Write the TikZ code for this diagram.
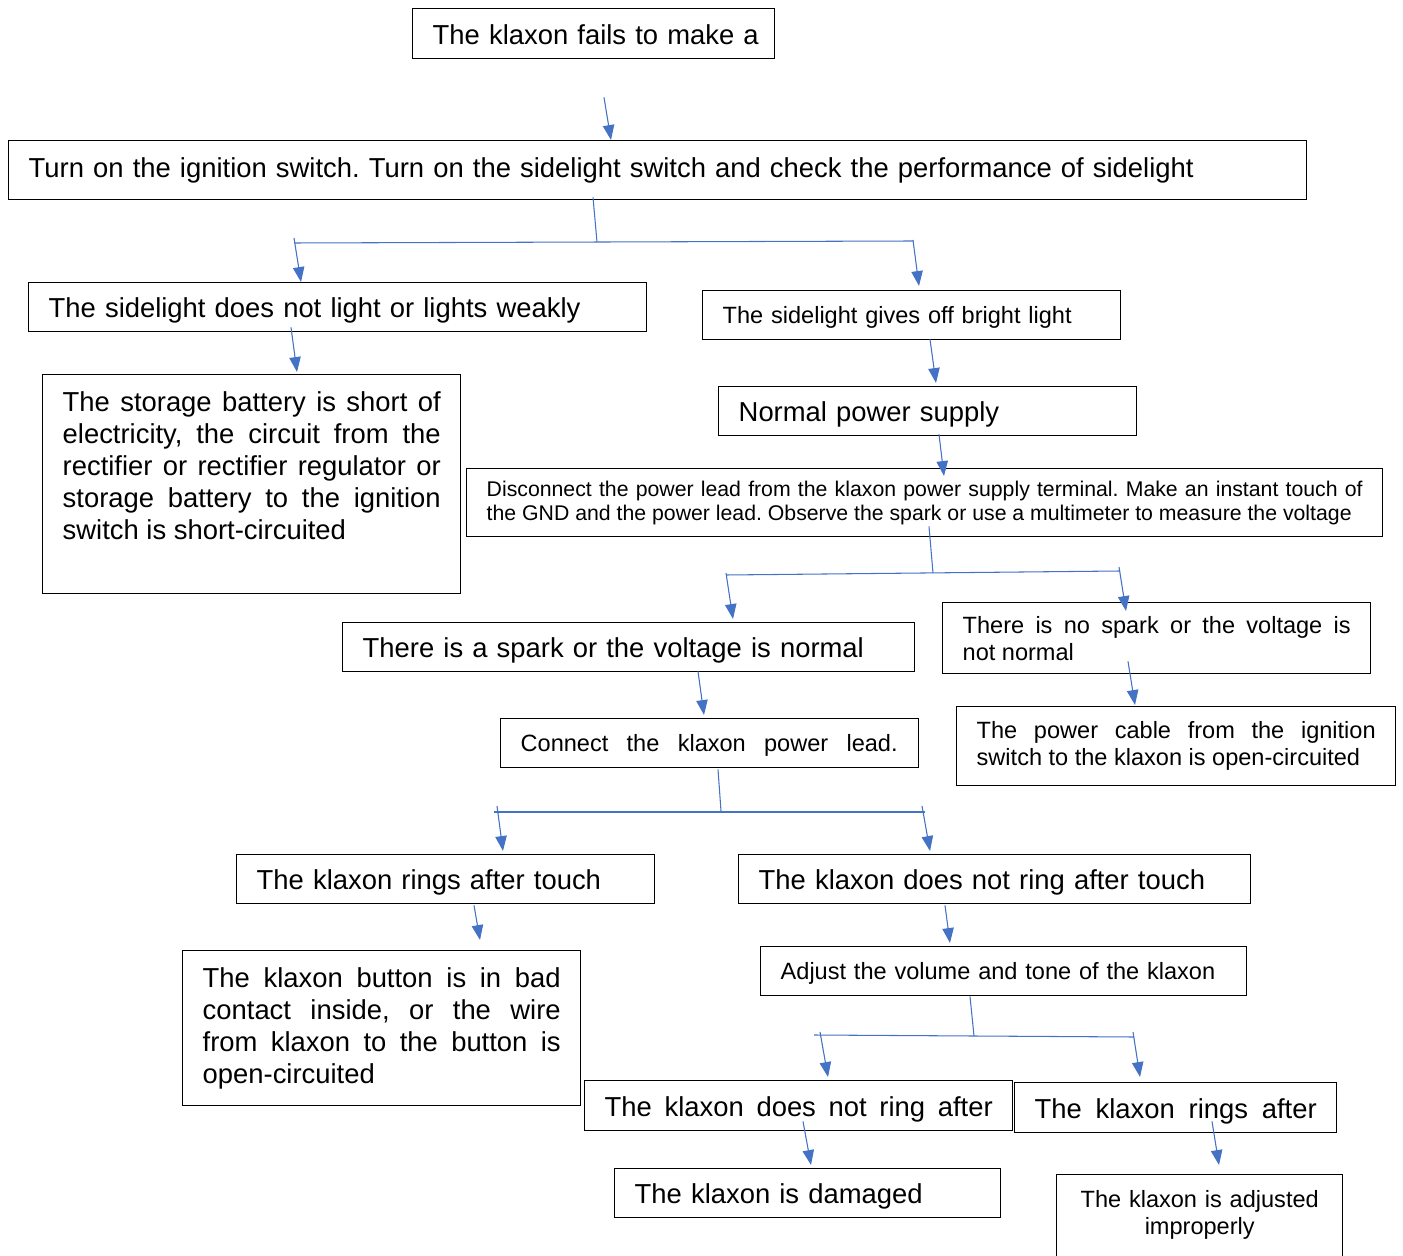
\documentclass[tikz,border=0pt]{standalone}
\usepackage{fontspec}
\setmainfont{Liberation Sans}
\frenchspacing
\usetikzlibrary{arrows.meta,calc}
\definecolor{arrowblue}{RGB}{68,114,196}
\newlength{\px}
\setlength{\px}{0.02cm}
\newcommand{\bigtxt}{\fontsize{15.6pt}{18.2pt}\selectfont}
\newcommand{\midtxt}{\fontsize{13.4pt}{15.3pt}\selectfont}
\newcommand{\smalltxt}{\fontsize{12.1pt}{13.7pt}\selectfont}
\tikzset{
  stepbox/.style={draw=black, line width=0.8pt, anchor=north west,
    inner xsep=20\px, inner ysep=0pt, align=left},
  bigbox/.style={stepbox, font=\bigtxt},
  midbox/.style={stepbox, font=\midtxt},
  smallbox/.style={stepbox, font=\smalltxt},
  bigline/.style={bigbox, text height=21\px, text depth=0pt},
  midline/.style={midbox, text height=16\px, text depth=0pt},
  flow/.style={-{Triangle[length=8.5pt,width=6.5pt]}, draw=arrowblue, fill=arrowblue, line width=0.6pt},
  bar/.style={draw=arrowblue, line width=0.6pt}
}

\begin{document}
\begin{tikzpicture}[x=0.02cm, y=-0.02cm]
\useasboundingbox (0,0) rectangle (1403,1256);
\clip (0,0) rectangle (1403,1256);

\node[bigline, text width=322\px, minimum height=50\px] (top) at (412,8) {\mbox{The klaxon fails to make a}};
\node[bigbox, text width=1258\px, minimum height=59\px] (turn) at (8,140) {Turn on the ignition switch. Turn on the sidelight switch and check the performance of sidelight};
\node[bigline, text width=578\px, minimum height=49\px] (weak) at (28,282) {The sidelight does not light or lights weakly};
\node[midline, text width=378\px, minimum height=49\px] (bright) at (702,290) {The sidelight gives off bright light};
\node[bigline, text width=378\px, minimum height=49\px] (normal) at (718,386) {Normal power supply};
\node[smallbox, align=justify, text width=876\px, minimum height=68\px] (disc) at (466,468) {Disconnect the power lead from the klaxon power supply terminal. Make an instant touch of\linebreak the GND and the power lead. Observe the spark or use a multimeter to measure the voltage};
\node[bigbox, align=justify, text width=378\px, inner ysep=17\px, text depth=165\px] (batt) at (42,374) {The storage battery is short of\linebreak electricity, the circuit from the\linebreak rectifier or rectifier regulator or\linebreak storage battery to the ignition\linebreak switch is short-circuited};
\node[bigline, text width=532\px, minimum height=49\px] (spark) at (342,622) {There is a spark or the voltage is normal};
\node[midbox, align=justify, text width=388\px, minimum height=71\px] (nosp) at (942,602) {There is no spark or the voltage is\linebreak not normal};
\node[midline, text width=378\px, minimum height=49\px] (conn) at (500,718) {\makebox[377\px][s]{Connect\hfill the\hfill klaxon\hfill power\hfill lead.}};
\node[midbox, align=justify, text width=399\px, minimum height=79\px] (cable) at (956,706) {The power cable from the ignition\linebreak switch to the klaxon is open-circuited};
\node[bigline, text width=378\px, minimum height=49\px] (rings) at (236,854) {The klaxon rings after touch};
\node[bigline, text width=472\px, minimum height=49\px] (noring) at (738,854) {The klaxon does not ring after touch};
\node[bigbox, align=justify, text width=358\px, minimum height=155\px] (button) at (182,950) {The klaxon button is in bad\linebreak contact inside, or the wire\linebreak from klaxon to the button is\linebreak open-circuited};
\node[midline, text width=446\px, minimum height=49\px] (adjust) at (760,946) {Adjust the volume and tone of the klaxon};
\node[bigline, text width=388\px, minimum height=50\px] (dnr) at (584,1080) {\makebox[388\px][s]{The\hfill klaxon\hfill does\hfill not\hfill ring\hfill after}};
\node[bigline, text width=282\px, minimum height=50\px] (rafter) at (1014,1082) {\makebox[282\px][s]{The\hfill klaxon\hfill rings\hfill after}};
\node[bigline, text width=346\px, minimum height=49\px] (damaged) at (614,1168) {The klaxon is damaged};
\node[midbox, align=center, text width=246\px, inner ysep=16\px, text depth=120\px] (improper) at (1056,1174) {The klaxon is adjusted\\improperly};

\coordinate (s1) at (597,242);
\coordinate (b1l) at (294,243);
\coordinate (b1r) at (913,241);
\coordinate (s2) at (933,573);
\coordinate (b2l) at (726,575);
\coordinate (b2r) at (1120,571);
\coordinate (s3) at (721,811);
\coordinate (b3l) at (494,812);
\coordinate (b3r) at (925,812);
\coordinate (s4) at (974,1036);
\coordinate (b4l) at (814,1035);
\coordinate (b4r) at (1134,1037);

\draw[flow] ($(top.south west)+(192,38)$) -- ($(turn.north west)+(603,0)$);
\draw[bar] ($(turn.south west)+(585,-3)$) -- (s1);
\draw[bar] (b1l) -- (b1r);
\draw[flow] ($(b1l)+(0,-5)$) -- ($(weak.north west)+(273,0)$);
\draw[flow] ($(b1r)+(0,-1)$) -- ($(bright.north west)+(217,-4)$);
\draw[flow] ($(weak.south west)+(263,-5)$) -- ($(batt.north west)+(255,-2)$);
\draw[flow] ($(bright.south west)+(228,-1)$) -- ($(normal.north west)+(218,-3)$);
\draw[flow] ($(normal.south west)+(221,-2)$) -- ($(disc.north west)+(478,8)$);
\draw[bar] ($(disc.south west)+(463,-11)$) -- (s2);
\draw[bar] (b2l) -- (b2r);
\draw[flow] ($(b2l)+(0,-2)$) -- ($(spark.north west)+(391,-3)$);
\draw[flow] ($(b2r)+(-1,-4)$) -- ($(nosp.north west)+(184,9)$);
\draw[flow] ($(nosp.south west)+(186,-13)$) -- ($(cable.north west)+(179,-1)$);
\draw[flow] ($(spark.south west)+(356,-1)$) -- ($(conn.north west)+(204,-3)$);
\draw[bar] ($(conn.south west)+(218,1)$) -- (s3);
\draw[bar] (b3l) -- (b3r);
\draw[flow] ($(b3l)+(3,-6)$) -- ($(rings.north west)+(267,-3)$);
\draw[flow] ($(b3r)+(-3,-6)$) -- ($(noring.north west)+(192,-3)$);
\draw[flow] ($(rings.south west)+(238,1)$) -- ($(button.north west)+(298,-10)$);
\draw[flow] ($(noring.south west)+(207,1)$) -- ($(adjust.north west)+(190,-3)$);
\draw[bar] ($(adjust.south west)+(210,0)$) -- (s4);
\draw[bar] (b4l) -- (b4r);
\draw[flow] ($(b4l)+(6,-3)$) -- ($(dnr.north west)+(244,-3)$);
\draw[flow] ($(b4r)+(-1,-5)$) -- ($(rafter.north west)+(126,-5)$);
\draw[flow] ($(dnr.south west)+(219,-10)$) -- ($(damaged.north west)+(197,-3)$);
\draw[flow] ($(rafter.south west)+(198,-12)$) -- ($(improper.north west)+(163,-9)$);
\end{tikzpicture}
\end{document}
